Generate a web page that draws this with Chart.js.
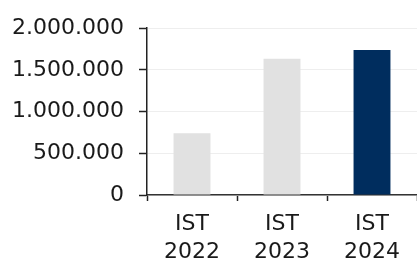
<!DOCTYPE html>
<html>
<head>
<meta charset="utf-8">
<script src="https://cdn.jsdelivr.net/npm/chart.js@4/dist/chart.umd.min.js"></script>
<style>
html,body{margin:0;padding:0;background:#fff;overflow:hidden;}
#wrap{width:417px;height:260px;position:relative;}
</style>
</head>
<body>
<div id="wrap"><canvas id="c"></canvas></div>
<script>
const categories = [["IST","2022"],["IST","2023"],["IST","2024"]];
const values = [740000, 1635000, 1740000];
const barColors = ["#e1e1e1", "#e1e1e1", "#002d5e"];
const yTickValues = [0, 500000, 1000000, 1500000, 2000000];

const fmt = v => String(v).replace(/\B(?=(\d{3})+(?!\d))/g, ".");
const FONT = {family: "'DejaVu Sans', Verdana, sans-serif", size: 22};
const XFONT = {family: "'DejaVu Sans', Verdana, sans-serif", size: 22, lineHeight: 1.25};

new Chart(document.getElementById('c'), {
  type: 'bar',
  data: {
    labels: categories,
    datasets: [{
      data: values,
      backgroundColor: barColors,
      borderWidth: 0,
      barPercentage: 0.41,
      categoryPercentage: 1.0
    }]
  },
  options: {
    responsive: true,
    maintainAspectRatio: false,
    animation: false,
    events: [],
    layout: {padding: {top: 9, left: 0, right: 0, bottom: 0}},
    plugins: {legend: {display: false}, tooltip: {enabled: false}},
    scales: {
      x: {
        offset: true,
        afterFit: axis => { axis.height = 65; },
        grid: {
          offset: true,
          drawOnChartArea: false,
          drawTicks: true,
          tickLength: 6,
          tickColor: '#222',
          tickWidth: 1.5
        },
        border: {display: true, color: '#333', width: 1.5},
        ticks: {color: '#1a1a1a', font: XFONT, padding: 10, maxRotation: 0, autoSkip: false}
      },
      y: {
        min: 0,
        max: 2000000,
        afterFit: axis => { axis.width = 147; },
        afterBuildTicks: axis => { axis.ticks = yTickValues.map(v => ({value: v})); },
        grid: {
          color: '#eeeeee',
          lineWidth: 1,
          drawTicks: true,
          tickLength: 8,
          tickColor: '#222',
          tickWidth: 1.5
        },
        border: {display: true, color: '#222', width: 1.5},
        ticks: {color: '#1a1a1a', font: FONT, padding: 15, callback: v => fmt(v)}
      }
    }
  }
});
</script>
</body>
</html>
